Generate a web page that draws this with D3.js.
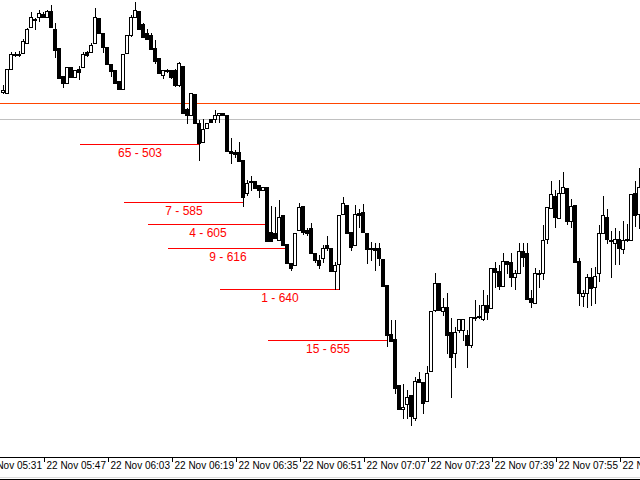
<!DOCTYPE html>
<html>
<head>
<meta charset="utf-8">
<script src="https://cdn.jsdelivr.net/npm/d3@7.9.0/dist/d3.min.js"></script>
<style>
  body { margin: 0; background: #fff; }
  svg { display: block; }
</style>
</head>
<body>
<svg id="chart" width="640" height="480"></svg>
<script>
// one-minute candles, prices in points
const opens = [408,407,431,445,445,447,457,473,481,483,486,483,489,471,452,424,417,433,423,431,
  433,448,448,457,482,467,453,436,430,419,411,447,465,483,489,476,467,465,452,442,
  425,430,430,430,415,434,391,385,406,377,358,372,381,381,385,387,385,349,348,348,
  340,307,319,319,315,310,313,268,267,260,285,256,237,235,270,294,270,272,247,240,
  242,255,252,229,236,286,295,268,255,287,288,267,252,252,252,241,215,166,161,115,
  91,96,105,82,121,118,99,129,190,217,189,193,168,147,170,170,165,155,182,183,
  181,195,192,232,229,214,239,238,223,227,249,247,202,197,227,227,261,292,304,282,
  307,312,279,295,239,204,207,223,213,227,267,283,260,257,261,251,260,260,307,286];
const highs = [415,431,448,448,449,461,472,488,482,490,488,490,495,477,452,424,433,433,430,434,
  448,449,457,492,482,467,453,436,430,419,446,465,485,498,489,477,471,467,460,442,
  430,431,430,431,438,434,392,407,406,380,381,377,381,390,387,387,385,362,350,358,
  340,320,324,319,315,313,313,294,293,300,285,256,237,267,297,294,272,277,247,245,
  255,264,252,238,285,303,295,268,295,291,296,267,258,257,257,241,215,180,180,115,
  116,110,105,123,128,118,134,189,227,217,202,207,182,173,181,181,170,183,200,195,
  210,205,232,238,235,247,239,247,230,257,257,257,210,232,230,275,293,319,310,320,
  328,312,301,295,242,210,226,232,233,275,304,291,269,272,269,279,276,306,319,332];
const lows = [407,407,431,444,444,447,457,473,471,479,483,483,473,443,422,413,417,423,423,421,
  433,444,448,457,467,448,436,424,417,411,411,447,464,483,471,463,461,451,437,427,
  422,428,422,414,414,387,377,385,377,340,358,372,378,378,378,385,349,337,343,339,
  294,305,310,312,303,310,259,259,262,260,255,237,230,235,270,266,265,247,238,232,
  238,250,229,211,211,286,267,250,255,273,268,237,240,230,235,214,154,159,107,91,
  82,82,75,80,118,87,99,129,189,190,185,147,103,133,168,160,133,153,180,182,
  180,181,192,213,211,214,227,214,211,227,234,201,193,197,213,221,257,292,273,282,
  307,276,273,238,195,194,193,195,197,219,267,257,223,236,236,247,259,260,274,272];
const closes = [410,431,446,446,446,459,471,483,481,487,483,489,473,450,422,417,433,423,430,428,
  446,445,455,483,467,453,436,429,417,411,446,465,483,490,471,463,461,451,439,427,
  430,429,423,415,437,387,385,407,377,357,371,377,378,385,387,385,349,347,346,339,
  303,317,318,312,310,313,259,259,262,283,255,237,232,267,293,268,267,247,240,235,
  252,252,229,235,285,297,267,253,286,285,268,251,251,250,242,214,165,159,112,91,
  93,103,84,119,118,97,127,189,217,190,193,165,143,168,181,181,155,183,183,184,
  195,188,232,228,214,239,236,223,227,249,243,201,198,227,227,260,293,306,283,307,
  313,279,294,238,207,207,223,212,224,267,285,261,260,261,252,260,261,306,285,313];

// support levels: price, label, index of the candle where the line ends
const levelPrices = [356, 298, 276, 252, 211, 160];
const levelLabels = ['65 - 503', '7 - 585', '4 - 605', '9 - 616', '1 - 640', '15 - 655'];
const levelEnds = [49, 60, 66, 71, 84, 96];

const tickIndex = [-6, 10, 26, 42, 58, 74, 90, 106, 122, 138, 154];
const tickLabels = ['22 Nov 05:31','22 Nov 05:47','22 Nov 06:03','22 Nov 06:19','22 Nov 06:35',
  '22 Nov 06:51','22 Nov 07:07','22 Nov 07:23','22 Nov 07:39','22 Nov 07:55','22 Nov 08:11'];

const svg = d3.select('#chart').attr('shape-rendering', 'crispEdges');

const x = d3.scaleLinear().domain([0, 1]).range([3, 7]);   // 4px per candle
const y = d3.scaleLinear().domain([500, 50]).range([0, 450]);

// horizontal price lines
svg.append('line').attr('x1', 0).attr('x2', 640)
  .attr('y1', Math.round(y(397)) + 0.5).attr('y2', Math.round(y(397)) + 0.5)
  .attr('stroke', '#ff4500');
svg.append('line').attr('x1', 0).attr('x2', 640)
  .attr('y1', Math.round(y(381)) + 0.5).attr('y2', Math.round(y(381)) + 0.5)
  .attr('stroke', '#c0c0c0');

// red level lines + labels
levelPrices.forEach((p, k) => {
  const xe = x(levelEnds[k]) + 1;
  const yy = Math.round(y(p)) + 0.5;
  svg.append('line').attr('x1', xe - 120).attr('x2', xe)
    .attr('y1', yy).attr('y2', yy).attr('stroke', 'red');
  svg.append('text').attr('x', xe - 60).attr('y', yy + 12)
    .attr('text-anchor', 'middle').attr('fill', '#ff0000')
    .attr('font-family', 'Liberation Sans, Arial, sans-serif').attr('font-size', 12)
    .text(levelLabels[k]);
});

// candles
const g = svg.append('g');
opens.forEach((o, i) => {
  const c = closes[i];
  const cx = x(i) + 0.5;
  g.append('line').attr('x1', cx).attr('x2', cx)
    .attr('y1', Math.round(y(highs[i]))).attr('y2', Math.round(y(lows[i])) + 1)
    .attr('stroke', '#000');
  const top = Math.round(y(Math.max(o, c)));
  const bot = Math.round(y(Math.min(o, c)));
  if (c > o) {
    g.append('rect').attr('x', x(i) - 1.5).attr('y', top + 0.5)
      .attr('width', 3).attr('height', Math.max(bot - top, 1))
      .attr('fill', '#fff').attr('stroke', '#000');
  } else {
    g.append('rect').attr('x', x(i) - 2).attr('y', top)
      .attr('width', 4).attr('height', Math.max(bot - top, 1) + 1)
      .attr('fill', '#000');
  }
});

// time axis
const axis = d3.axisBottom(x)
  .tickValues(tickIndex)
  .tickFormat((d, k) => tickLabels[k])
  .tickSizeInner(4).tickSizeOuter(0);
const ax = svg.append('g').attr('transform', 'translate(0,457.5)').call(axis);
ax.select('.domain').attr('d', 'M0,0H640');
ax.selectAll('.tick line').attr('transform', 'translate(0.5,0)');
ax.selectAll('text')
  .attr('text-anchor', 'start').attr('x', 3).attr('y', 4)
  .attr('font-family', 'Liberation Sans, Arial, sans-serif').attr('font-size', 10)
  .attr('fill', '#000');

svg.append('line').attr('x1', 0).attr('x2', 640).attr('y1', 477.5).attr('y2', 477.5).attr('stroke', '#ddd');
svg.append('line').attr('x1', 0).attr('x2', 640).attr('y1', 479.5).attr('y2', 479.5).attr('stroke', '#000');
</script>
</body>
</html>
